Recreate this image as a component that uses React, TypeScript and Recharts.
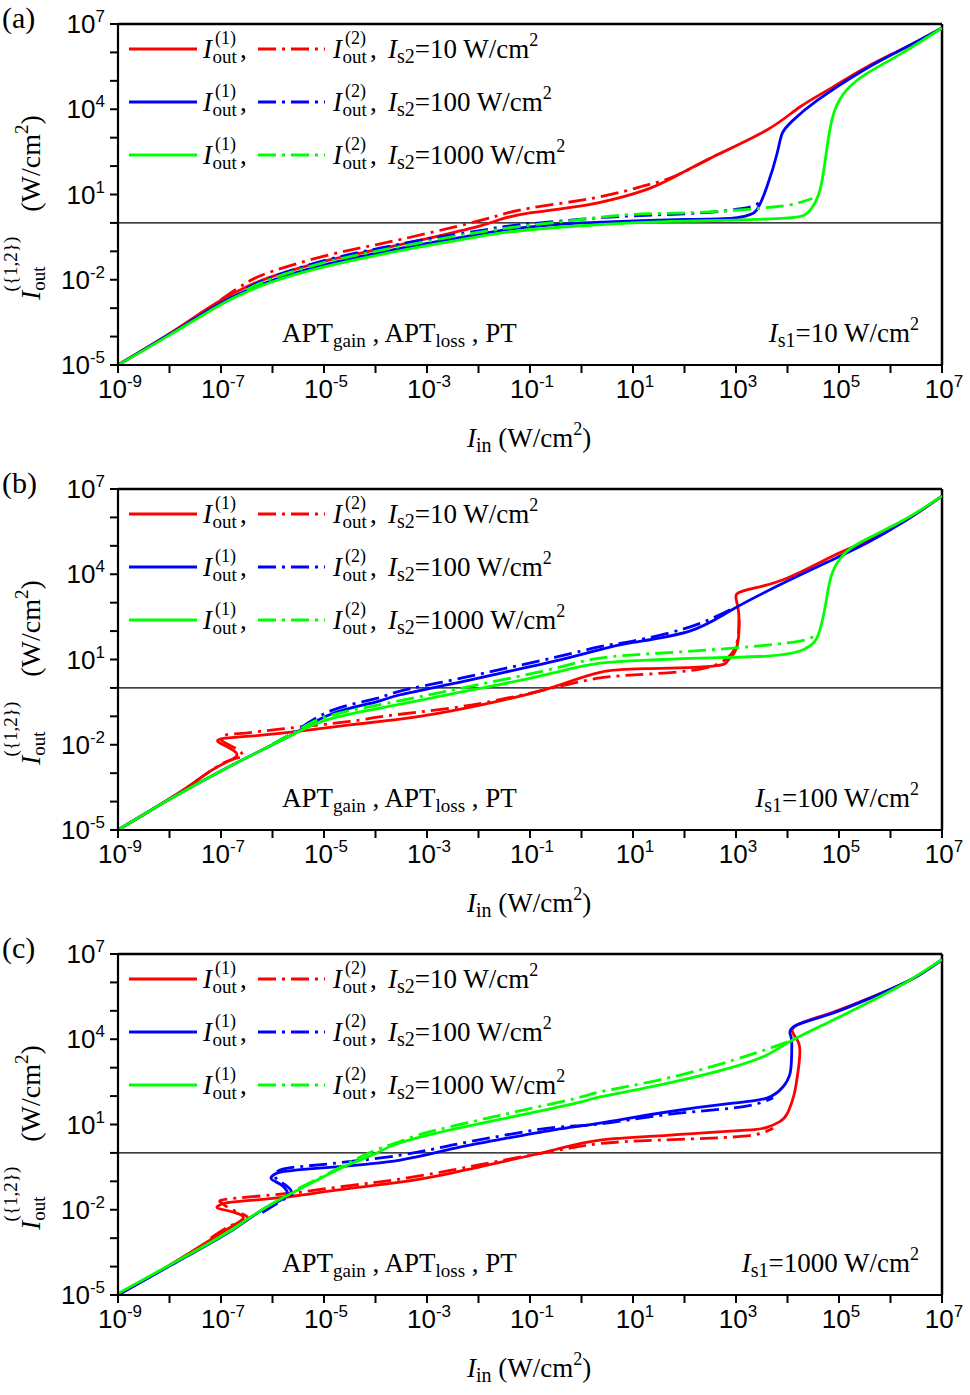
import { LineChart, Line, XAxis, YAxis, ReferenceLine } from 'recharts';

// exponents (log10): [log10 Iin, log10 Iout]
const xTickExps = [-9, -8, -7, -6, -5, -4, -3, -2, -1, 0, 1, 2, 3, 4, 5, 6, 7];
const yTickExps = [-5, -4, -3, -2, -1, 0, 1, 2, 3, 4, 5, 6, 7];
const xLabelExps = [-9, -7, -5, -3, -1, 1, 3, 5, 7];
const yLabelExps = [-5, -2, 1, 4, 7];
const is2Values = ['10', '100', '1000'];
const is1Values = ['10', '100', '1000'];
const panelLetters = ['(a)', '(b)', '(c)'];

// panel (a): Is1 = 10 W/cm2
const aRed1 = [[-9, -5], [-8, -3.9], [-7.5, -3.3], [-7, -2.72], [-6.5, -2.25], [-6, -1.88], [-5, -1.35], [-4, -0.95], [-3, -0.55], [-2, -0.12], [-1.58, 0.12], [-1, 0.35], [0, 0.6], [0.8, 0.92], [1.3, 1.2], [1.78, 1.6], [2.55, 2.32], [3.6, 3.27], [4.24, 4.08], [4.88, 4.78], [5.54, 5.49], [6.3, 6.18], [7, 6.86]];
const aRed2 = [[-7, -2.7], [-6.5, -2.1], [-6, -1.7], [-5, -1.17], [-4, -0.77], [-3, -0.37], [-2, 0.07], [-1.58, 0.28], [-1, 0.52], [0, 0.8], [0.8, 1.1], [1.3, 1.35], [1.78, 1.62], [2.55, 2.32]];
const aBlue1 = [[-9, -5], [-8, -3.92], [-7, -2.82], [-6.5, -2.38], [-6, -2.02], [-5, -1.48], [-4, -1.07], [-3, -0.72], [-2, -0.4], [-1.58, -0.27], [-1, -0.14], [0, 0], [1, 0.07], [2, 0.12], [2.94, 0.17], [3.25, 0.28], [3.4, 0.45], [3.6, 1.27], [3.8, 2.46], [3.9, 3.16], [4.1, 3.6], [4.57, 4.3], [5.5, 5.4], [6.3, 6.18], [7, 6.86]];
const aBlue2 = [[-6.5, -2.3], [-6, -1.9], [-5, -1.33], [-4, -0.92], [-3, -0.57], [-2, -0.28], [-1.58, -0.15], [-1, -0.03], [0, 0.13], [1, 0.25], [2.3, 0.35], [3.1, 0.5], [3.4, 0.65], [3.52, 0.88]];
const aGreen1 = [[-9, -5], [-8, -3.95], [-7, -2.87], [-6.5, -2.43], [-6, -2.07], [-5, -1.55], [-4, -1.15], [-3, -0.8], [-2, -0.48], [-1.58, -0.36], [-1, -0.24], [0, -0.1], [1, 0], [2, 0.06], [3, 0.1], [3.8, 0.15], [4.24, 0.22], [4.44, 0.45], [4.63, 1.15], [4.76, 2.56], [4.9, 3.87], [5.15, 4.68], [5.55, 5.27], [6.2, 5.95], [7, 6.86]];
const aGreen2 = [[-6.5, -2.35], [-6, -1.95], [-5, -1.4], [-4, -1], [-3, -0.65], [-2, -0.33], [-1, -0.08], [0, 0.12], [1, 0.3], [2.3, 0.37], [3.72, 0.56], [4.2, 0.7], [4.48, 0.86]];

// panel (b): Is1 = 100 W/cm2
const bRed1 = [[-9, -5], [-8, -3.9], [-7.5, -3.3], [-7.21, -2.93], [-6.9, -2.62], [-6.77, -2.5], [-6.69, -2.33], [-6.83, -2.12], [-7.02, -1.94], [-7.06, -1.84], [-6.92, -1.77], [-6.44, -1.7], [-5.47, -1.52], [-4.5, -1.3], [-3.52, -1.1], [-2.5, -0.8], [-1.5, -0.42], [-0.6, 0], [0.36, 0.55], [1.33, 0.68], [2.55, 0.77], [2.83, 0.94], [2.95, 1.19], [3.04, 1.65], [3.06, 2.35], [3.04, 2.8], [3, 3.16], [3.04, 3.34], [3.33, 3.5], [4, 3.87], [4.88, 4.64], [5.54, 5.17], [6.3, 5.9], [7, 6.75]];
const bRed2 = [[-7.5, -3.3], [-7.21, -2.93], [-6.9, -2.6], [-6.65, -2.45], [-6.57, -2.4], [-6.65, -2.2], [-6.85, -2], [-7, -1.8], [-6.9, -1.65], [-6.6, -1.6], [-5.86, -1.45], [-4.5, -1.18], [-3.85, -1], [-2.5, -0.7], [-1.5, -0.38], [-0.6, -0.02], [0.36, 0.35], [1.33, 0.49], [2.3, 0.66], [2.75, 0.94], [2.95, 1.3], [3.04, 1.8], [3.06, 2.4]];
const bBlue1 = [[-9, -5], [-8, -3.92], [-7, -2.92], [-6, -2], [-5.47, -1.5], [-4.83, -0.9], [-4, -0.5], [-3.52, -0.24], [-2.5, 0.15], [-1.5, 0.55], [-0.5, 0.95], [0.36, 1.35], [1, 1.6], [2.1, 2], [2.94, 2.77], [4, 3.76], [4.8, 4.45], [5.54, 5.1], [6.3, 5.9], [7, 6.75]];
const bBlue2 = [[-6, -1.98], [-5.47, -1.42], [-4.83, -0.78], [-4, -0.38], [-3.52, -0.11], [-2.5, 0.28], [-1.5, 0.68], [-0.5, 1.08], [0.36, 1.45], [1, 1.65], [1.97, 2.07], [2.6, 2.5], [2.94, 2.8]];
const bGreen1 = [[-9, -5], [-8, -3.92], [-7, -2.92], [-6, -2], [-5.47, -1.52], [-4.83, -1.06], [-3.52, -0.57], [-2.5, -0.2], [-1.5, 0.15], [-0.5, 0.55], [0.36, 0.87], [1.3, 0.98], [2.3, 1.05], [3.6, 1.12], [4.24, 1.3], [4.45, 1.5], [4.57, 1.75], [4.68, 2.4], [4.76, 3.16], [4.88, 4.1], [5.15, 4.8], [5.54, 5.24], [6.3, 5.95], [7, 6.75]];
const bGreen2 = [[-6, -1.98], [-5.47, -1.45], [-4.83, -0.95], [-3.52, -0.45], [-2.5, -0.07], [-1.5, 0.3], [-0.5, 0.7], [0.36, 1.05], [1.5, 1.22], [2.94, 1.4], [4.24, 1.65], [4.5, 1.9]];

// panel (c): Is1 = 1000 W/cm2
const cRed1 = [[-9, -5], [-8, -3.95], [-7.2, -3.05], [-6.8, -2.6], [-6.57, -2.3], [-6.7, -2.12], [-6.95, -2], [-7.08, -1.92], [-6.95, -1.78], [-6.6, -1.7], [-6, -1.6], [-5.47, -1.49], [-4.5, -1.25], [-3.52, -1.03], [-2.5, -0.7], [-1.5, -0.3], [-0.5, 0.12], [0.36, 0.45], [1.5, 0.6], [2.3, 0.7], [3.2, 0.8], [3.6, 0.9], [3.85, 1.1], [4, 1.4], [4.12, 2], [4.18, 2.56], [4.24, 3.62], [4.15, 4.08], [4.1, 4.25], [4.2, 4.52], [4.88, 4.95], [5.66, 5.5], [6.4, 6.1], [7, 6.8]];
const cRed2 = [[-7.2, -3], [-6.8, -2.55], [-6.5, -2.35], [-6.55, -2.18], [-6.8, -1.98], [-7, -1.75], [-6.85, -1.62], [-6, -1.48], [-5.47, -1.38], [-4.5, -1.15], [-3.52, -0.92], [-2.5, -0.6], [-1.5, -0.25], [-0.5, 0.08], [0.36, 0.33], [1.5, 0.45], [2.94, 0.56], [3.5, 0.7], [3.72, 0.87]];
const cBlue1 = [[-9, -5], [-8, -3.98], [-7, -2.96], [-6.5, -2.37], [-6, -1.8], [-5.72, -1.52], [-5.78, -1.2], [-5.95, -1], [-6.03, -0.88], [-5.95, -0.74], [-5.8, -0.66], [-5.4, -0.58], [-4.83, -0.5], [-3.52, -0.25], [-2.5, 0.15], [-1.5, 0.5], [-0.5, 0.82], [0.36, 1.05], [1.66, 1.44], [2.94, 1.75], [3.6, 1.93], [3.91, 2.32], [4.05, 2.8], [4.08, 3.4], [4.08, 3.97], [4.05, 4.2], [4.18, 4.5], [4.88, 4.92], [5.66, 5.49], [6.4, 6.1], [7, 6.8]];
const cBlue2 = [[-6.2, -2.1], [-5.75, -1.6], [-5.62, -1.45], [-5.7, -1.2], [-5.9, -0.95], [-5.95, -0.75], [-5.8, -0.57], [-5.4, -0.47], [-4.83, -0.37], [-3.52, -0.08], [-2.5, 0.28], [-1.5, 0.62], [-0.5, 0.9], [0.36, 1.02], [1.66, 1.35], [2.94, 1.58], [3.5, 1.78], [3.72, 1.93]];
const cGreen1 = [[-9, -4.95], [-8, -3.95], [-7.02, -2.96], [-6.5, -2.35], [-5.99, -1.77], [-5.5, -1.3], [-5.02, -0.85], [-4.5, -0.4], [-3.97, 0], [-3.66, 0.27], [-3, 0.62], [-2, 1.02], [-1, 1.4], [0, 1.8], [0.36, 1.97], [1.66, 2.45], [2.94, 3.02], [3.6, 3.45], [4.1, 3.97], [4.8, 4.6], [5.54, 5.27], [6.3, 6], [7, 6.8]];
const cGreen2 = [[-5.5, -1.25], [-5, -0.8], [-4.5, -0.33], [-4, 0.1], [-3.5, 0.42], [-3, 0.72], [-2, 1.15], [-1, 1.56], [0, 1.97], [0.36, 2.15], [1.66, 2.63], [2.94, 3.26], [3.6, 3.65], [4.1, 3.97]];

const RED = '#ff0000';
const BLUE = '#0000ff';
const GREEN = '#00ff00';
const DASHDOT = '18 6 3 6';
const SERIF = "'Liberation Serif', 'Times New Roman', serif";
const SANS = "'Liberation Sans', Arial, sans-serif";

const panels = [
  [aRed1, aRed2, aBlue1, aBlue2, aGreen1, aGreen2],
  [bRed1, bRed2, bBlue1, bBlue2, bGreen1, bGreen2],
  [cRed1, cRed2, cBlue1, cBlue2, cGreen1, cGreen2],
];
const seriesColors = [RED, RED, BLUE, BLUE, GREEN, GREEN];

const W = 970;
const H = 465;

const toPts = (pairs: number[][]) => pairs.map(([a, b]) => ({ x: 10 ** a, y: 10 ** b }));

const XTick = (props: any) => {
  const { x, y, payload } = props;
  const e = Math.round(Math.log10(payload.value));
  if (!xLabelExps.includes(e)) return <g />;
  return (
    <text x={x + 2} y={y + 23} textAnchor="middle" fontFamily={SANS} fontSize={26} fill="#000">
      10<tspan dy={-11} fontSize={17}>{e}</tspan>
    </text>
  );
};

const YTick = (props: any) => {
  const { x, y, payload } = props;
  const e = Math.round(Math.log10(payload.value));
  if (!yLabelExps.includes(e)) return <g />;
  return (
    <text x={x - 3} y={y + 9} textAnchor="end" fontFamily={SANS} fontSize={26} fill="#000">
      10<tspan dy={-11} fontSize={17}>{e}</tspan>
    </text>
  );
};

function Iout({ x, y, n }: { x: number; y: number; n: string }) {
  return (
    <g fontFamily={SERIF} fill="#000">
      <text x={x} y={y} fontSize={27} fontStyle="italic">I</text>
      <text x={x + 9.5} y={y + 5} fontSize={19}>out</text>
      <text x={x + 12} y={y - 14} fontSize={18}>({n})</text>
      <text x={x + 37} y={y} fontSize={27}>,</text>
    </g>
  );
}

function LegendRow({ y, color, is2 }: { y: number; color: string; is2: string }) {
  return (
    <g>
      <line x1={129} x2={197} y1={y} y2={y} stroke={color} strokeWidth={3} />
      <Iout x={203} y={y + 9} n="1" />
      <line x1={258} x2={325} y1={y} y2={y} stroke={color} strokeWidth={3} strokeDasharray={DASHDOT} />
      <Iout x={333} y={y + 9} n="2" />
      <text x={388} y={y + 9} fontFamily={SERIF} fontSize={27} fill="#000">
        <tspan fontStyle="italic">I</tspan>
        <tspan fontSize={20} dy={5}>s2</tspan>
        <tspan dy={-5}>={is2} W/cm</tspan>
        <tspan fontSize={18} dy={-12}>2</tspan>
      </text>
    </g>
  );
}

function Panel({ index }: { index: number }) {
  const curves = panels[index];
  return (
    <div style={{ position: 'absolute', left: 0, top: index * H, width: W, height: H }}>
      <LineChart width={W} height={H} margin={{ top: 24, right: 28, bottom: 70, left: 58 }}>
        <XAxis
          dataKey="x"
          type="number"
          scale="log"
          domain={[1e-9, 1e7]}
          allowDataOverflow
          ticks={xTickExps.map((e) => 10 ** e)}
          interval={0}
          height={30}
          tickSize={8}
          tick={<XTick />}
          tickLine={{ stroke: '#000', strokeWidth: 2 }}
          axisLine={{ stroke: '#000', strokeWidth: 2.2 }}
        />
        <YAxis
          type="number"
          scale="log"
          domain={[1e-5, 1e7]}
          allowDataOverflow
          ticks={yTickExps.map((e) => 10 ** e)}
          interval={0}
          width={60}
          tickSize={8}
          tick={<YTick />}
          tickLine={{ stroke: '#000', strokeWidth: 2 }}
          axisLine={{ stroke: '#000', strokeWidth: 2.2 }}
        />
        <ReferenceLine y={1e7} stroke="#000" strokeWidth={2.5} />
        <ReferenceLine x={1e7} stroke="#000" strokeWidth={2.5} />
        <ReferenceLine y={1} stroke="#000" strokeWidth={1.4} />
        {curves.map((c, i) => (
          <Line
            key={i}
            data={toPts(c)}
            dataKey="y"
            type="natural"
            stroke={seriesColors[i]}
            strokeWidth={2.8}
            strokeDasharray={i % 2 === 1 ? DASHDOT : undefined}
            dot={false}
            activeDot={false}
            isAnimationActive={false}
          />
        ))}
      </LineChart>
      <svg width={W} height={H} style={{ position: 'absolute', left: 0, top: 0, pointerEvents: 'none' }}>
        <text x={2} y={28} fontFamily={SERIF} fontSize={30} fill="#000">{panelLetters[index]}</text>
        <LegendRow y={49} color={RED} is2={is2Values[0]} />
        <LegendRow y={102} color={BLUE} is2={is2Values[1]} />
        <LegendRow y={155} color={GREEN} is2={is2Values[2]} />
        <text x={282} y={342} fontFamily={SERIF} fontSize={27} fill="#000">
          APT<tspan fontSize={19} dy={5}>gain</tspan>
          <tspan dy={-5}> , APT</tspan>
          <tspan fontSize={19} dy={5}>loss</tspan>
          <tspan dy={-5}> , PT</tspan>
        </text>
        <text x={919} y={342} textAnchor="end" fontFamily={SERIF} fontSize={27} fill="#000">
          <tspan fontStyle="italic">I</tspan>
          <tspan fontSize={20} dy={5}>s1</tspan>
          <tspan dy={-5}>={is1Values[index]} W/cm</tspan>
          <tspan fontSize={18} dy={-12}>2</tspan>
        </text>
        <text x={467} y={447} fontFamily={SERIF} fontSize={27} fill="#000">
          <tspan fontStyle="italic">I</tspan>
          <tspan fontSize={20} dy={5}>in</tspan>
          <tspan dy={-5}> (W/cm</tspan>
          <tspan fontSize={18} dy={-12}>2</tspan>
          <tspan dy={12}>)</tspan>
        </text>
        <text transform="translate(40, 300) rotate(-90)" fontFamily={SERIF} fontSize={28} fill="#000">
          <tspan fontStyle="italic">I</tspan>
          <tspan fontSize={19} dy={5}>out</tspan>
          <tspan fontSize={19} dx={-25} dy={-28}>({'{'}1,2{'}'})</tspan>
          <tspan dx={18} dy={23}> (W/cm</tspan>
          <tspan fontSize={19} dy={-12}>2</tspan>
          <tspan dy={12}>)</tspan>
        </text>
      </svg>
    </div>
  );
}

export default function App() {
  return (
    <div style={{ position: 'absolute', left: 0, top: 0, width: W, height: 1395, background: '#fff' }}>
      <Panel index={0} />
      <Panel index={1} />
      <Panel index={2} />
    </div>
  );
}
